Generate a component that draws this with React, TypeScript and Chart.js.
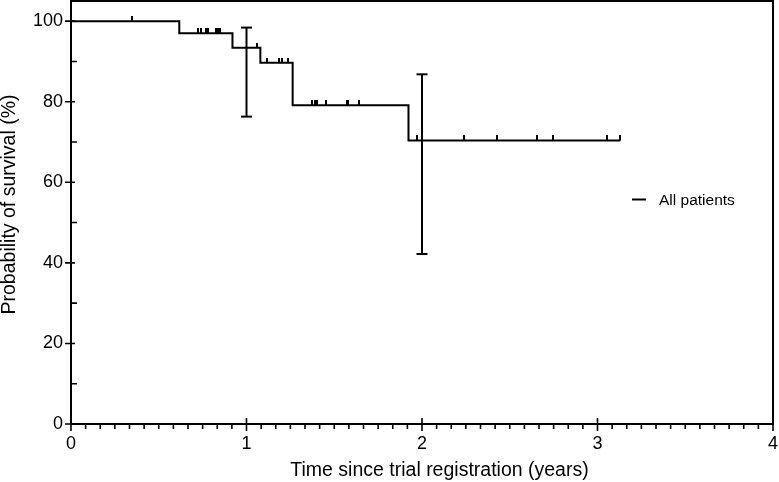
import React, { useEffect, useRef } from "react";
import { Chart, registerables } from "chart.js";

Chart.register(...registerables);

// Kaplan–Meier step curve (time in years, survival in %)
const stepTimes = [0, 0.617, 0.92, 1.079, 1.263, 1.923, 3.13];
const stepSurvival = [100, 97.0, 93.4, 89.7, 79.1, 70.4, 70.4];

// Censored observations
const censorTimes = [
  0.346, 0.726, 0.739, 0.77, 0.783, 0.827, 0.838, 0.851, 1.059, 1.116, 1.186,
  1.201, 1.239, 1.376, 1.389, 1.402, 1.454, 1.572, 1.578, 1.642, 1.971, 2.237,
  2.43, 2.658, 2.744, 3.056, 3.13,
];
const censorSurvival = [
  100, 97.0, 97.0, 97.0, 97.0, 97.0, 97.0, 97.0, 93.4, 89.7, 89.7, 89.7, 89.7,
  79.1, 79.1, 79.1, 79.1, 79.1, 79.1, 79.1, 70.4, 70.4, 70.4, 70.4, 70.4, 70.4,
  70.4,
];

// Confidence-interval bars
const errorTimes = [1, 2];
const errorLower = [76.3, 42.2];
const errorUpper = [98.4, 86.8];

// Axes
const xTicks = [0, 1, 2, 3, 4];
const yTicks = [0, 20, 40, 60, 80, 100];
const yMinorTicks = [10, 30, 50, 70, 90];
const xMinorPerUnit = 12;

const seriesLabel = "All patients";
const xTitle = "Time since trial registration (years)";
const yTitle = "Probability of survival (%)";

const FONT = "'Liberation Sans', Arial, Helvetica, sans-serif";

export default function App() {
  const ref = useRef<HTMLCanvasElement | null>(null);

  useEffect(() => {
    if (!ref.current) return;

    const tickImg = document.createElement("canvas");
    tickImg.width = 2;
    tickImg.height = 10;
    const tctx = tickImg.getContext("2d")!;
    tctx.fillStyle = "#000";
    tctx.fillRect(0, 0, 2, 5);

    const framePlugin = {
      id: "frame",
      afterDraw(chart: any) {
        const ctx = chart.ctx as CanvasRenderingContext2D;
        const { left, right, top, bottom } = chart.chartArea;
        const xs = chart.scales.x;
        const ys = chart.scales.y;
        ctx.save();
        ctx.strokeStyle = "#000";
        ctx.lineWidth = 2;
        ctx.strokeRect(left, top, right - left, bottom - top);
        ctx.lineWidth = 1.6;
        ctx.beginPath();
        for (const v of yTicks) {
          const py = ys.getPixelForValue(v);
          ctx.moveTo(left - 6, py);
          ctx.lineTo(left + 4, py);
        }
        for (const v of yMinorTicks) {
          const py = ys.getPixelForValue(v);
          ctx.moveTo(left, py);
          ctx.lineTo(left + 6, py);
        }
        for (const v of xTicks) {
          const px = xs.getPixelForValue(v);
          ctx.moveTo(px, bottom - 6);
          ctx.lineTo(px, bottom + 7);
        }
        const xmin = xTicks[0];
        const xmax = xTicks[xTicks.length - 1];
        const n = (xmax - xmin) * xMinorPerUnit;
        for (let k = 1; k < n; k++) {
          if (k % xMinorPerUnit === 0) continue;
          const px = xs.getPixelForValue(xmin + k / xMinorPerUnit);
          ctx.moveTo(px, bottom);
          ctx.lineTo(px, bottom + 5);
        }
        ctx.stroke();

        // axis titles
        ctx.fillStyle = "#000";
        ctx.font = `19.5px ${FONT}`;
        ctx.textAlign = "center";
        ctx.textBaseline = "alphabetic";
        ctx.fillText(xTitle, 439.5, 476);
        ctx.save();
        ctx.translate(14.5, 204.5);
        ctx.rotate(-Math.PI / 2);
        ctx.fillText(yTitle, 0, 0);
        ctx.restore();

        // legend
        ctx.lineWidth = 2;
        ctx.beginPath();
        ctx.moveTo(632, 199.5);
        ctx.lineTo(646, 199.5);
        ctx.stroke();
        ctx.font = `15.5px ${FONT}`;
        ctx.textAlign = "left";
        ctx.fillText(seriesLabel, 659, 205);
        ctx.restore();
      },
    };

    const errorDatasets = errorTimes.map((t, i) => ({
      type: "line" as const,
      data: [
        { x: t, y: errorLower[i] },
        { x: t, y: errorUpper[i] },
      ],
      borderColor: "#000",
      borderWidth: 2,
      pointStyle: "line" as const,
      pointRadius: 5.5,
      pointBorderWidth: 2,
      pointBorderColor: "#000",
      pointHoverRadius: 5.5,
      fill: false,
    }));

    const chart = new Chart(ref.current, {
      type: "line",
      data: {
        datasets: [
          {
            type: "line",
            label: seriesLabel,
            data: stepTimes.map((t, i) => ({ x: t, y: stepSurvival[i] })),
            stepped: "before",
            borderColor: "#000",
            borderWidth: 2,
            pointRadius: 0,
            fill: false,
          },
          {
            type: "scatter",
            data: censorTimes.map((t, i) => ({ x: t, y: censorSurvival[i] })),
            pointStyle: tickImg as any,
            pointRadius: 3,
            borderColor: "#000",
            backgroundColor: "#000",
          },
          ...errorDatasets,
        ] as any,
      },
      options: {
        animation: false,
        responsive: false,
        layout: {
          autoPadding: false,
          padding: { top: 1, right: 6, left: 0, bottom: 0 },
        },
        plugins: {
          legend: { display: false },
          tooltip: { enabled: false },
          title: { display: false },
        },
        scales: {
          x: {
            type: "linear",
            min: 0,
            max: 4,
            afterBuildTicks: (s: any) => {
              s.ticks = xTicks.map((v) => ({ value: v }));
            },
            afterFit: (s: any) => {
              s.height = 58;
              s.paddingLeft = 0;
              s.paddingRight = 0;
              s.paddingTop = 0;
              s.paddingBottom = 0;
            },
            grid: { display: false, drawTicks: false },
            border: { display: false },
            ticks: {
              color: "#000",
              padding: 9,
              font: { family: FONT, size: 18 },
              maxRotation: 0,
            },
          },
          y: {
            type: "linear",
            min: 0,
            max: 105,
            afterBuildTicks: (s: any) => {
              s.ticks = yTicks.map((v) => ({ value: v }));
            },
            afterFit: (s: any) => {
              s.width = 71;
              s.paddingLeft = 0;
              s.paddingRight = 0;
              s.paddingTop = 0;
              s.paddingBottom = 0;
            },
            grid: { display: false, drawTicks: false },
            border: { display: false },
            ticks: {
              color: "#000",
              padding: 8,
              font: { family: FONT, size: 18 },
            },
          },
        },
      } as any,
      plugins: [framePlugin],
    });

    return () => chart.destroy();
  }, []);

  return (
    <canvas
      ref={ref}
      width={779}
      height={482}
      style={{ position: "absolute", left: 0, top: 0, display: "block" }}
    />
  );
}
